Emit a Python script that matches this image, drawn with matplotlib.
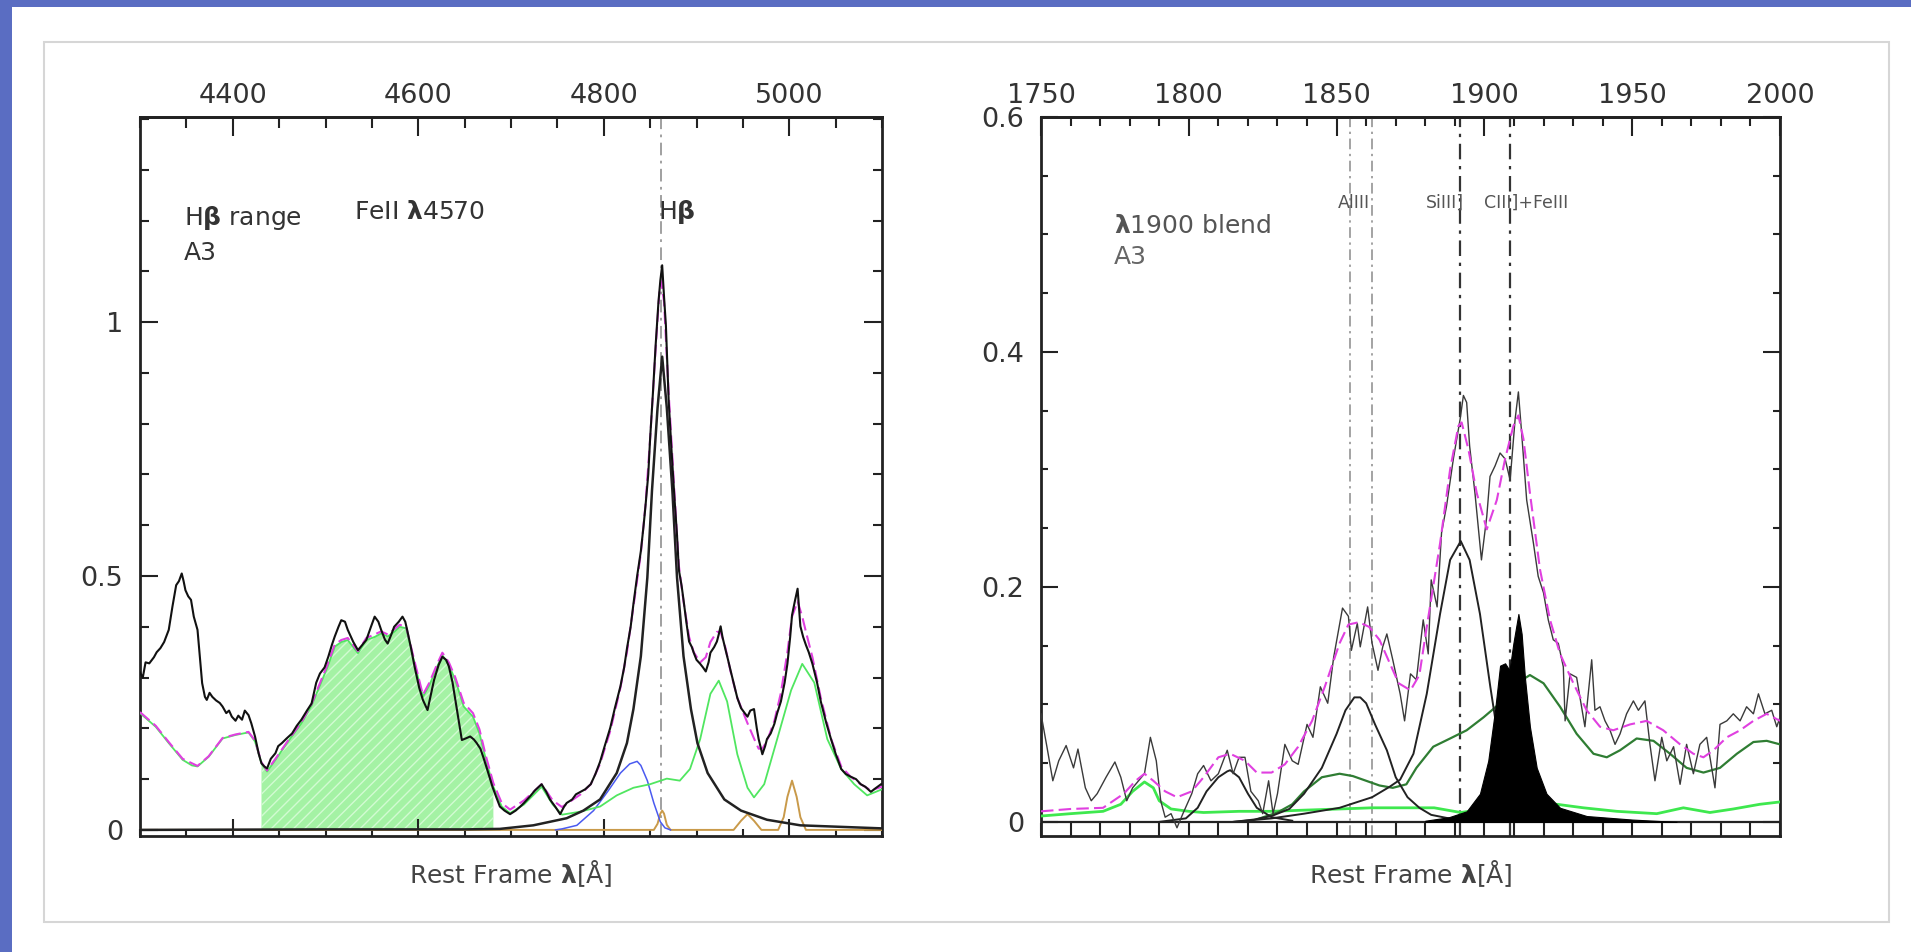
import matplotlib.pyplot as plt
import matplotlib.patches as patches
from matplotlib.ticker import MultipleLocator, FixedLocator, FormatStrFormatter

plt.rcParams['font.family'] = ['DejaVu Sans']
plt.rcParams['mathtext.fontset'] = 'dejavusans'
plt.rcParams['hatch.linewidth'] = 1.0

# ---------------- H beta range ----------------
hb_wave = [4300, 4303, 4306, 4310, 4315, 4318, 4322, 4326, 4331, 4335, 4339, 4342, 4345, 4347, 4349,
           4352, 4355, 4358, 4362, 4365, 4367, 4370, 4372, 4375, 4378, 4382, 4386, 4389, 4393, 4396,
           4399, 4403, 4406, 4410, 4413, 4417, 4420, 4424, 4428, 4431, 4434, 4437, 4441, 4446, 4449,
           4453, 4458, 4464, 4469, 4474, 4480, 4485, 4490, 4494, 4499, 4503, 4507, 4510, 4514, 4517,
           4521, 4524, 4530, 4535, 4540, 4544, 4549, 4553, 4557, 4560, 4564, 4567, 4571, 4574, 4579,
           4583, 4586, 4588, 4592, 4596, 4601, 4605, 4610, 4614, 4617, 4622, 4626, 4630, 4633, 4637,
           4640, 4644, 4647, 4651, 4656, 4660, 4663, 4667, 4670, 4675, 4680, 4684, 4688, 4693, 4699,
           4705, 4710, 4714, 4720, 4726, 4733, 4738, 4742, 4748, 4753, 4757, 4760, 4766, 4770, 4775,
           4780, 4786, 4791, 4796, 4801, 4807, 4812, 4818, 4822, 4825, 4829, 4832, 4836, 4840, 4843,
           4845, 4848, 4850, 4853, 4856, 4859, 4861, 4863, 4865, 4867, 4870, 4873, 4876, 4879, 4881,
           4884, 4886, 4889, 4892, 4895, 4897, 4900, 4904, 4907, 4910, 4913, 4915, 4919, 4922, 4924,
           4926, 4928, 4931, 4934, 4937, 4940, 4944, 4948, 4952, 4955, 4958, 4962, 4965, 4967, 4971,
           4974, 4976, 4980, 4984, 4987, 4991, 4995, 4998, 5001, 5003, 5006, 5009, 5012, 5015, 5018,
           5021, 5025, 5030, 5034, 5040, 5045, 5050, 5056, 5061, 5066, 5072, 5077, 5082, 5088, 5093,
           5099]
hb_flux = [0.310, 0.300, 0.330, 0.328, 0.340, 0.350, 0.358, 0.370, 0.394, 0.440, 0.482, 0.490, 0.505, 0.490, 0.472,
           0.460, 0.453, 0.420, 0.394, 0.330, 0.289, 0.262, 0.256, 0.270, 0.262, 0.255, 0.250, 0.243, 0.230, 0.235,
           0.223, 0.215, 0.225, 0.217, 0.235, 0.226, 0.210, 0.184, 0.150, 0.131, 0.125, 0.121, 0.140, 0.151, 0.165,
           0.171, 0.180, 0.190, 0.205, 0.217, 0.235, 0.249, 0.290, 0.308, 0.320, 0.341, 0.365, 0.381, 0.400, 0.413,
           0.410, 0.394, 0.370, 0.354, 0.365, 0.374, 0.400, 0.420, 0.410, 0.394, 0.375, 0.367, 0.385, 0.400, 0.410,
           0.420, 0.410, 0.394, 0.360, 0.322, 0.280, 0.256, 0.236, 0.270, 0.295, 0.325, 0.341, 0.335, 0.322, 0.290,
           0.256, 0.210, 0.177, 0.180, 0.184, 0.178, 0.171, 0.160, 0.144, 0.115, 0.085, 0.065, 0.046, 0.038, 0.031,
           0.038, 0.046, 0.053, 0.065, 0.078, 0.090, 0.075, 0.060, 0.045, 0.031, 0.045, 0.053, 0.060, 0.070, 0.075,
           0.080, 0.090, 0.110, 0.134, 0.165, 0.201, 0.240, 0.283, 0.320, 0.357, 0.400, 0.445, 0.500, 0.549, 0.600,
           0.638, 0.700, 0.771, 0.860, 0.956, 1.040, 1.082, 1.112, 1.050, 0.994, 0.845, 0.750, 0.660, 0.580, 0.512,
           0.480, 0.453, 0.410, 0.371, 0.360, 0.349, 0.335, 0.327, 0.320, 0.312, 0.330, 0.349, 0.360, 0.371, 0.385,
           0.401, 0.380, 0.357, 0.335, 0.312, 0.290, 0.260, 0.240, 0.230, 0.223, 0.235, 0.238, 0.200, 0.179, 0.149,
           0.165, 0.179, 0.190, 0.209, 0.230, 0.253, 0.290, 0.327, 0.380, 0.423, 0.450, 0.475, 0.401, 0.380, 0.364,
           0.350, 0.327, 0.290, 0.253, 0.210, 0.179, 0.150, 0.120, 0.110, 0.105, 0.100, 0.090, 0.085, 0.075, 0.082,
           0.090]

# total fit
hb_model_wave = [4300, 4317, 4331, 4346, 4362, 4374, 4389, 4403, 4417, 4424, 4431, 4437, 4446, 4460, 4474,
                 4485, 4492, 4502, 4510, 4517, 4524, 4535, 4544, 4553, 4560, 4567, 4574, 4580, 4587, 4596,
                 4605, 4612, 4620, 4626, 4633, 4640, 4649, 4659, 4666, 4673, 4681, 4690, 4699, 4714, 4733,
                 4745, 4755, 4775, 4786, 4796, 4807, 4818, 4825, 4832, 4840, 4845, 4850, 4856, 4860, 4862,
                 4865, 4870, 4876, 4881, 4886, 4892, 4897, 4904, 4910, 4915, 4922, 4926, 4931, 4937, 4944,
                 4955, 4962, 4967, 4971, 4976, 4984, 4991, 4998, 5003, 5009, 5014, 5018, 5025, 5034, 5045,
                 5056, 5066, 5077, 5088, 5100]
hb_model = [0.232, 0.205, 0.173, 0.140, 0.126, 0.145, 0.181, 0.188, 0.193, 0.176, 0.133, 0.117, 0.140, 0.177, 0.212,
            0.248, 0.280, 0.325, 0.365, 0.374, 0.378, 0.352, 0.378, 0.385, 0.391, 0.385, 0.395, 0.404, 0.400, 0.332,
            0.266, 0.290, 0.325, 0.349, 0.330, 0.300, 0.250, 0.230, 0.198, 0.145, 0.092, 0.053, 0.040, 0.058, 0.090,
            0.058, 0.045, 0.070, 0.090, 0.130, 0.195, 0.280, 0.350, 0.440, 0.545, 0.640, 0.770, 0.950, 1.060, 1.080,
            1.040, 0.860, 0.670, 0.520, 0.450, 0.380, 0.350, 0.330, 0.340, 0.370, 0.390, 0.390, 0.360, 0.310, 0.260,
            0.210, 0.180, 0.160, 0.160, 0.175, 0.215, 0.270, 0.350, 0.420, 0.450, 0.420, 0.390, 0.340, 0.260, 0.180,
            0.125, 0.105, 0.090, 0.078, 0.085]

# FeII template
feii_wave = [4300, 4317, 4331, 4346, 4356, 4362, 4374, 4389, 4403, 4417, 4424, 4431, 4437, 4446, 4460,
             4474, 4485, 4492, 4502, 4510, 4517, 4524, 4535, 4544, 4553, 4560, 4567, 4574, 4580, 4587,
             4596, 4605, 4612, 4620, 4626, 4633, 4640, 4649, 4659, 4666, 4673, 4681, 4690, 4699, 4714,
             4733, 4745, 4755, 4775, 4796, 4814, 4832, 4850, 4868, 4882, 4893, 4904, 4915, 4924, 4933,
             4944, 4955, 4962, 4973, 4987, 5002, 5014, 5027, 5041, 5056, 5070, 5084, 5100]
feii_flux = [0.230, 0.203, 0.171, 0.138, 0.127, 0.125, 0.144, 0.180, 0.187, 0.192, 0.174, 0.131, 0.115, 0.138, 0.175,
             0.210, 0.245, 0.276, 0.320, 0.361, 0.370, 0.374, 0.348, 0.374, 0.380, 0.387, 0.381, 0.390, 0.400, 0.397,
             0.328, 0.262, 0.285, 0.320, 0.344, 0.325, 0.295, 0.243, 0.223, 0.190, 0.138, 0.085, 0.046, 0.033, 0.050,
             0.085, 0.050, 0.030, 0.036, 0.046, 0.068, 0.083, 0.090, 0.101, 0.097, 0.120, 0.179, 0.268, 0.294, 0.253,
             0.149, 0.083, 0.064, 0.090, 0.179, 0.275, 0.327, 0.290, 0.179, 0.120, 0.090, 0.068, 0.080]
feii_band = (4431, 4681)

# broad H beta
hbbc_wave = [4300, 4500, 4650, 4688, 4724, 4760, 4778, 4796, 4814, 4825, 4832, 4840, 4847, 4852, 4858,
             4863, 4868, 4874, 4879, 4886, 4894, 4901, 4912, 4930, 4948, 4976, 5012, 5100]
hbbc_flux = [0.000, 0.001, 0.001, 0.002, 0.009, 0.023, 0.038, 0.060, 0.112, 0.171, 0.238, 0.342, 0.497, 0.668, 0.831,
             0.932, 0.831, 0.668, 0.497, 0.342, 0.238, 0.171, 0.112, 0.060, 0.038, 0.020, 0.009, 0.003]

# blueshifted component
hbblue_wave = [4748, 4755, 4771, 4789, 4804, 4818, 4828, 4836, 4840, 4847, 4854, 4861, 4866, 4872]
hbblue_flux = [0.000, 0.002, 0.009, 0.038, 0.075, 0.112, 0.130, 0.135, 0.127, 0.097, 0.053, 0.016, 0.004, 0.000]

# narrow lines (H beta NC, [OIII])
nc_wave = [4300, 4854, 4858, 4861, 4863, 4865, 4868, 4872, 4940, 4948, 4955, 4962, 4970, 4988,
           4994, 4998, 5003, 5008, 5012, 5018, 5100]
nc_flux = [0.000, 0.000, 0.012, 0.032, 0.038, 0.032, 0.010, 0.000, 0.000, 0.018, 0.031, 0.018, 0.000, 0.000,
           0.025, 0.065, 0.097, 0.065, 0.025, 0.000, 0.000]

# ---------------- 1900 blend ----------------
uv_wave = [1750, 1752, 1754, 1756, 1758.5, 1761, 1762.5, 1765, 1767, 1769, 1772, 1775, 1777, 1779, 1781,
           1785, 1787, 1789, 1790.5, 1792, 1794, 1796, 1798, 1801, 1803, 1805, 1807.5, 1810, 1813, 1815,
           1817, 1819, 1821, 1823.5, 1825, 1827, 1828.5, 1830, 1832.5, 1835, 1837, 1840, 1842, 1844.5, 1847,
           1849, 1852, 1854, 1855, 1857, 1858, 1860.5, 1862, 1864, 1865.6, 1867, 1869, 1871.5, 1873, 1875,
           1877, 1879.3, 1881, 1882, 1884, 1885.5, 1887.2, 1889.5, 1891.8, 1892.9, 1894, 1895, 1896.8, 1899, 1900.8,
           1901.9, 1903.6, 1905.3, 1907, 1908.7, 1910.4, 1911.5, 1912.6, 1914.3, 1916.6, 1918.2, 1920, 1921.6, 1923.3,
           1925, 1926.7, 1927.3, 1929, 1931.2, 1934, 1936.3, 1937.4, 1939.1, 1940.8, 1942.5, 1944.2, 1945.9, 1948.1,
           1950.4, 1952.1, 1954.3, 1956, 1957.7, 1960, 1961.7, 1964, 1966.2, 1968.4, 1970.7, 1972.9, 1975.2, 1978,
           1979.7, 1982, 1984.2, 1986.5, 1988.7, 1991, 1992.7, 1994.9, 1997.2, 1998.9, 2000]
uv_flux = [0.092, 0.064, 0.035, 0.052, 0.065, 0.046, 0.062, 0.029, 0.018, 0.024, 0.038, 0.051, 0.038, 0.018, 0.029,
           0.041, 0.072, 0.052, 0.018, 0.004, 0.007, -0.005, 0.007, 0.024, 0.041, 0.048, 0.035, 0.041, 0.061, 0.041,
           0.055, 0.055, 0.026, 0.018, 0.007, 0.035, 0.007, 0.024, 0.066, 0.052, 0.049, 0.083, 0.072, 0.115, 0.101,
           0.140, 0.182, 0.175, 0.146, 0.169, 0.149, 0.183, 0.152, 0.129, 0.149, 0.160, 0.138, 0.109, 0.086, 0.126,
           0.121, 0.172, 0.143, 0.206, 0.183, 0.246, 0.269, 0.309, 0.343, 0.363, 0.357, 0.320, 0.280, 0.223, 0.260,
           0.294, 0.303, 0.314, 0.309, 0.291, 0.343, 0.366, 0.331, 0.274, 0.237, 0.209, 0.195, 0.172, 0.155,
           0.152, 0.132, 0.086, 0.126, 0.123, 0.081, 0.138, 0.095, 0.098, 0.086, 0.078, 0.066, 0.075, 0.092,
           0.103, 0.095, 0.103, 0.066, 0.035, 0.072, 0.052, 0.064, 0.032, 0.066, 0.041, 0.066, 0.072, 0.029,
           0.083, 0.086, 0.092, 0.086, 0.098, 0.092, 0.109, 0.092, 0.095, 0.081, 0.089]

uv_model_wave = [1750, 1760, 1771, 1778, 1782, 1785, 1788, 1792, 1796, 1801, 1805, 1810, 1814, 1819, 1823,
                 1828, 1832.5, 1837, 1841.7, 1846, 1851, 1854, 1857.6, 1861, 1864.5, 1868, 1871, 1875, 1878, 1880.5,
                 1885, 1888.4, 1891.2, 1892.3, 1894.6, 1897.4, 1900.8, 1904.2, 1907, 1909.8, 1911.5, 1913.2, 1915.4, 1918.8,
                 1922.2, 1925.6, 1930.1, 1934.6, 1939.1, 1943.6, 1949.3, 1954.9, 1960.5, 1966.2, 1970.7, 1974.1, 1977.5,
                 1982, 1986.5, 1991, 1995.5, 2000]
uv_model = [0.009, 0.011, 0.012, 0.024, 0.035, 0.041, 0.035, 0.026, 0.021, 0.026, 0.038, 0.055, 0.058, 0.052, 0.042,
            0.042, 0.049, 0.064, 0.086, 0.115, 0.152, 0.168, 0.170, 0.166, 0.155, 0.135, 0.118, 0.112, 0.125, 0.166,
            0.237, 0.300, 0.337, 0.340, 0.317, 0.280, 0.249, 0.274, 0.309, 0.337, 0.346, 0.326, 0.280, 0.215,
            0.172, 0.143, 0.118, 0.095, 0.081, 0.078, 0.083, 0.086, 0.078, 0.066, 0.058, 0.055, 0.061,
            0.072, 0.078, 0.086, 0.092, 0.086]

# individual emission lines
l1814_wave = [1790, 1799, 1803, 1806, 1810, 1813, 1814, 1817, 1820, 1823, 1828, 1835]
l1814_flux = [0.000, 0.003, 0.012, 0.026, 0.038, 0.043, 0.044, 0.038, 0.024, 0.012, 0.004, 0.001]

aliii_wave = [1815, 1822, 1828, 1834, 1839, 1845, 1850, 1853, 1856, 1858, 1860, 1863, 1867, 1870, 1874,
              1878, 1882, 1890, 1900]
aliii_flux = [0.000, 0.002, 0.005, 0.011, 0.024, 0.046, 0.075, 0.095, 0.106, 0.106, 0.101, 0.083, 0.061, 0.038, 0.021,
              0.012, 0.006, 0.002, 0.000]

siiii_wave = [1815, 1828, 1839, 1851, 1862, 1868, 1871.5, 1876, 1880.5, 1885, 1888.4, 1892, 1895, 1898.5, 1902,
              1905, 1909, 1913, 1919, 1930, 1945]
siiii_flux = [0.000, 0.003, 0.007, 0.012, 0.021, 0.030, 0.036, 0.058, 0.109, 0.177, 0.223, 0.239, 0.223, 0.177, 0.115,
              0.066, 0.032, 0.012, 0.004, 0.001, 0.000]

ciii_wave = [1880, 1888, 1894, 1898.5, 1901.3, 1903.6, 1905.3, 1907, 1908.5, 1909.8, 1911.5, 1912.6, 1913.7, 1915.4,
             1917.7, 1921, 1925.6, 1934.6, 1950, 1965]
ciii_flux = [0.001, 0.004, 0.009, 0.024, 0.052, 0.095, 0.133, 0.135, 0.129, 0.152, 0.177, 0.160, 0.123, 0.081,
             0.046, 0.024, 0.012, 0.005, 0.002, 0.000]

feiii_wave = [1824, 1830, 1835, 1839, 1845, 1851, 1855.5, 1860, 1864.5, 1869, 1873.6, 1877, 1882.7, 1888.4, 1894,
              1899.7, 1905.3, 1911, 1915.4, 1920, 1925.6, 1931.2, 1936.9, 1941.4, 1945.9, 1951.5, 1957.2, 1962.8, 1968.4,
              1974.1, 1979.7, 1985.4, 1991, 1995.5, 2000]
feiii_flux = [0.003, 0.008, 0.015, 0.026, 0.038, 0.041, 0.039, 0.035, 0.031, 0.029, 0.032, 0.046, 0.064, 0.071, 0.078,
              0.089, 0.101, 0.118, 0.125, 0.118, 0.098, 0.075, 0.058, 0.055, 0.061, 0.071, 0.069, 0.058, 0.046,
              0.042, 0.046, 0.058, 0.068, 0.069, 0.066]

feii_uv_wave = [1750, 1760, 1771, 1777, 1781, 1785, 1788, 1790, 1794, 1800, 1805, 1817, 1828, 1839, 1851,
                1862, 1872, 1883, 1892, 1900, 1915, 1924.5, 1933.5, 1944.8, 1958.3, 1967.3, 1976.3, 1984.2, 1993.2, 2000]
feii_uv_flux = [0.005, 0.007, 0.009, 0.015, 0.026, 0.034, 0.029, 0.018, 0.011, 0.009, 0.008, 0.009, 0.009, 0.010, 0.011,
                0.012, 0.012, 0.012, 0.008, 0.011, 0.014, 0.015, 0.012, 0.009, 0.007, 0.012, 0.008, 0.011, 0.015, 0.017]

uv_lines = [1854.7, 1862.0, 1891.8, 1908.7]
uv_line_labels = ['AlIII', 'SiIII]', 'CIII]+FeIII']
hb_line = 4861.3

hb_top_ticks = [4400, 4600, 4800, 5000]
uv_top_ticks = [1750, 1800, 1850, 1900, 1950, 2000]

W, H = 1911, 952
fig = plt.figure(figsize=(W / 100, H / 100), dpi=100)
fig.patch.set_facecolor('white')

# blue slide frame and the grey bordered card
frame_blue = '#5a6dc2'
fig.add_artist(patches.Rectangle((0, 1 - 7 / H), 1, 7 / H, transform=fig.transFigure,
                                 color=frame_blue, lw=0, zorder=0))
fig.add_artist(patches.Rectangle((0, 0), 12 / W, 1, transform=fig.transFigure,
                                 color=frame_blue, lw=0, zorder=0))
fig.add_artist(patches.Rectangle((44 / W, 30 / H), 1845 / W, 880 / H, transform=fig.transFigure,
                                 fill=False, ec='#d6d6d6', lw=1.5, zorder=0))

ax1 = fig.add_axes([140 / W, 116 / H, 742 / W, 719 / H])
ax2 = fig.add_axes([1041 / W, 116 / H, 739 / W, 719 / H])

ink = '#222222'
label_ink = '#333333'


def style_axes(ax, top_ticks, xmin, ymaj, ymin, bottom_len, top_len, y_len):
    for s in ax.spines.values():
        s.set_linewidth(2.0)
        s.set_color(ink)
    ax.xaxis.set_major_locator(FixedLocator(top_ticks))
    ax.xaxis.set_minor_locator(MultipleLocator(xmin))
    ax.yaxis.set_major_locator(MultipleLocator(ymaj))
    ax.yaxis.set_minor_locator(MultipleLocator(ymin))
    ax.yaxis.set_major_formatter(FormatStrFormatter('%g'))
    ax.tick_params(axis='x', which='both', direction='in', bottom=True, top=False,
                   labelbottom=False, color=ink, width=1.5)
    ax.tick_params(axis='x', which='major', length=bottom_len[0])
    ax.tick_params(axis='x', which='minor', length=bottom_len[1])
    ax.tick_params(axis='y', which='both', direction='in', left=True, right=True,
                   color=ink, width=1.5, labelsize=19.5, labelcolor=label_ink, pad=12)
    ax.tick_params(axis='y', which='major', length=y_len[0])
    ax.tick_params(axis='y', which='minor', length=y_len[1])
    top = ax.secondary_xaxis('top')
    top.xaxis.set_major_locator(FixedLocator(top_ticks))
    top.xaxis.set_minor_locator(MultipleLocator(xmin))
    top.tick_params(which='both', direction='in', color=ink, width=1.5,
                    labelsize=19.5, labelcolor=label_ink, pad=6)
    top.tick_params(which='major', length=top_len[0])
    top.tick_params(which='minor', length=top_len[1])
    top.spines['top'].set_linewidth(2.0)
    top.spines['top'].set_color(ink)
    ax.set_xlabel(r'Rest Frame $\mathbf{\lambda}$[Å]', fontsize=18, color='#444444', labelpad=16)


# ---- left panel: H beta ----
ax1.set_xlim(4300, 5100)
ax1.set_ylim(-0.012, 1.404)
style_axes(ax1, hb_top_ticks, 50, 0.5, 0.1, (12, 5), (14, 8), (13, 6.5))

in_band = [feii_band[0] <= w <= feii_band[1] for w in feii_wave]
ax1.fill_between(feii_wave, 0, feii_flux, where=in_band, facecolor='#a4f2a4',
                 edgecolor='#d2fbd2', hatch='///', linewidth=0, zorder=1)
ax1.axvline(hb_line, color='#999999', lw=1.3, ls=(0, (7, 3, 1.5, 3)), zorder=2)
ax1.plot(nc_wave, nc_flux, color='#c99a4a', lw=1.4, zorder=3)
ax1.plot(hbblue_wave, hbblue_flux, color='#4a5af0', lw=1.1, zorder=3)
ax1.plot(feii_wave, feii_flux, color='#50e660', lw=1.3, zorder=3)
ax1.plot(hbbc_wave, hbbc_flux, color=ink, lw=1.8, zorder=4)
ax1.plot(hb_model_wave, hb_model, color='#e040e0', lw=1.5, ls=(0, (6, 2.5)), zorder=5)
ax1.plot(hb_wave, hb_flux, color='#111111', lw=1.5, zorder=6)

ax1.text(4347, 1.205, r'H$\mathbf{\beta}$ range', fontsize=18, color=label_ink, va='center')
ax1.text(4347, 1.136, 'A3', fontsize=18, color=label_ink, va='center')
ax1.text(4531, 1.217, r'FeII $\mathbf{\lambda}$4570', fontsize=18, color=label_ink, va='center')
ax1.text(4859, 1.217, r'H$\mathbf{\beta}$', fontsize=18, color=label_ink, va='center')

# ---- right panel: 1900 blend ----
ax2.set_xlim(1750, 2000)
ax2.set_ylim(-0.012, 0.6)
style_axes(ax2, uv_top_ticks, 10, 0.2, 0.05, (9.5, 9.5), (14, 6.5), (12, 5))

ax2.axhline(0, color=ink, lw=1.6, zorder=3)
for i, w in enumerate(uv_lines):
    dark = i >= 2
    ax2.axvline(w, color='#333333' if dark else '#8a8a8a', lw=1.6 if dark else 1.1,
                ls=(0, (7, 3, 1.5, 3)), zorder=2)

ax2.plot(feii_uv_wave, feii_uv_flux, color='#3ee84e', lw=2.0, zorder=3)
ax2.plot(feiii_wave, feiii_flux, color='#2f7d33', lw=1.6, zorder=3)
ax2.plot(l1814_wave, l1814_flux, color=ink, lw=1.4, zorder=4)
ax2.plot(aliii_wave, aliii_flux, color=ink, lw=1.4, zorder=4)
ax2.plot(siiii_wave, siiii_flux, color=ink, lw=1.4, zorder=4)
ax2.fill_between(ciii_wave, 0, ciii_flux, color='black', lw=0.8, zorder=4)
ax2.plot(uv_wave, uv_flux, color='#3a3a3a', lw=1.0, zorder=5)
ax2.plot(uv_model_wave, uv_model, color='#e040e0', lw=1.5, ls=(0, (6, 2.5)), zorder=6)

ax2.text(1855.7, 0.527, uv_line_labels[0], fontsize=12.5, color='#555555', ha='center', va='center')
ax2.text(1893.0, 0.527, uv_line_labels[1], fontsize=12.5, color='#555555', ha='right', va='center')
ax2.text(1900.0, 0.527, uv_line_labels[2], fontsize=12.5, color='#555555', ha='left', va='center')
ax2.text(1774.7, 0.507, r'$\mathbf{\lambda}$1900 blend', fontsize=18, color='#555555', va='center')
ax2.text(1774.7, 0.481, 'A3', fontsize=18, color='#666666', va='center')

fig.savefig('out.png', dpi=100, facecolor=fig.get_facecolor())
